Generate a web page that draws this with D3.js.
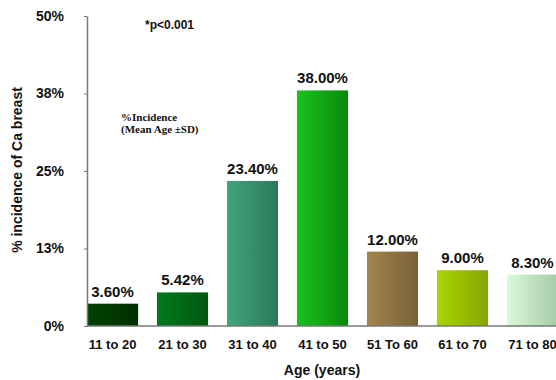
<!DOCTYPE html>
<html>
<head>
<meta charset="utf-8">
<script src="https://cdn.jsdelivr.net/npm/d3@7"></script>
<style>
  body { margin: 0; background: #fff; }
  svg { display: block; font-family: "Liberation Sans", Arial, sans-serif; }
</style>
</head>
<body>
<div id="chart"></div>
<script>
// data
var ageGroups = ["11 to 20", "21 to 30", "31 to 40", "41 to 50", "51 To 60", "61 to 70", "71 to 80"];
var incidence = [3.60, 5.42, 23.40, 38.00, 12.00, 9.00, 8.30];
var tickValues = [0, 12.5, 25, 37.5, 50];
var tickLabels = ["0%", "13%", "25%", "38%", "50%"];
// left / right colour of each bar's gradient
var colorsLeft  = ["#004200", "#007a1c", "#3fa67d", "#1ac21e", "#a2864e", "#aad500", "#dafada"];
var colorsRight = ["#002e00", "#005810", "#2c7858", "#078a0b", "#7a6036", "#86a600", "#a6c9a6"];

var W = 556, H = 380;
var svg = d3.select("#chart").append("svg")
    .attr("width", W)
    .attr("height", H);

var x = d3.scaleBand()
    .domain(ageGroups)
    .range([87, 558])
    .paddingInner(0.27)
    .paddingOuter(0);

var y = d3.scaleLinear()
    .domain([0, 50])
    .range([326, 16]);

// gradients
var defs = svg.append("defs");
ageGroups.forEach(function(d, i) {
  var g = defs.append("linearGradient")
      .attr("id", "grad" + i)
      .attr("x1", "0%").attr("x2", "100%")
      .attr("y1", "0%").attr("y2", "0%");
  g.append("stop").attr("offset", "0%").attr("stop-color", colorsLeft[i]);
  g.append("stop").attr("offset", "100%").attr("stop-color", colorsRight[i]);
});

// bars
svg.append("g")
  .selectAll("rect")
  .data(incidence)
  .enter()
  .append("rect")
    .attr("x", function(d, i) { return x(ageGroups[i]); })
    .attr("y", function(d) { return y(d); })
    .attr("width", x.bandwidth())
    .attr("height", function(d) { return y(0) - y(d); })
    .attr("fill", function(d, i) { return "url(#grad" + i + ")"; });

// value labels
svg.append("g")
  .selectAll("text")
  .data(incidence)
  .enter()
  .append("text")
    .attr("x", function(d, i) { return x(ageGroups[i]) + x.bandwidth() / 2; })
    .attr("y", function(d) { return y(d) - 7; })
    .attr("text-anchor", "middle")
    .style("font-size", "15px")
    .style("font-weight", "bold")
    .style("fill", "#111")
    .text(function(d) { return d.toFixed(2) + "%"; });

// Y axis
var yAxis = svg.append("g")
    .attr("transform", "translate(87,0)")
    .call(d3.axisLeft(y).tickValues(tickValues)
      .tickFormat(function(d, i) { return tickLabels[i]; })
      .tickSize(3).tickPadding(20).tickSizeOuter(0));
yAxis.select(".domain").attr("stroke", "#777").attr("stroke-width", 1.5);
yAxis.selectAll(".tick line").attr("stroke", "#777");
yAxis.selectAll("text")
    .style("font-size", "14px")
    .style("font-weight", "bold")
    .style("fill", "#111")
    .style("font-family", "Liberation Sans, Arial, sans-serif");

// X axis
var xAxis = svg.append("g")
    .attr("transform", "translate(0,326)")
    .call(d3.axisBottom(x).tickSize(0).tickPadding(14).tickSizeOuter(0));
xAxis.select(".domain").attr("d", "M87,0H556").attr("stroke", "#777").attr("stroke-width", 1.5);
xAxis.selectAll("text")
    .style("font-size", "13px")
    .style("font-weight", "bold")
    .style("fill", "#111")
    .style("font-family", "Liberation Sans, Arial, sans-serif");

// axis titles
svg.append("text")
    .attr("x", 322)
    .attr("y", 375)
    .attr("text-anchor", "middle")
    .style("font-size", "14px")
    .style("font-weight", "bold")
    .style("fill", "#111")
    .text("Age (years)");

svg.append("text")
    .attr("transform", "translate(22,170) rotate(-90)")
    .attr("text-anchor", "middle")
    .style("font-size", "14px")
    .style("font-weight", "bold")
    .style("fill", "#111")
    .text("% incidence of Ca breast");

// annotations
svg.append("text")
    .attr("x", 145)
    .attr("y", 29)
    .style("font-size", "12px")
    .style("font-weight", "bold")
    .style("fill", "#111")
    .text("*p<0.001");

var note = svg.append("text")
    .attr("x", 121)
    .attr("y", 121)
    .style("font-family", "Liberation Serif, Times New Roman, serif")
    .style("font-size", "11px")
    .style("font-weight", "bold")
    .style("fill", "#111");
note.append("tspan").attr("x", 121).text("%Incidence");
note.append("tspan").attr("x", 121).attr("dy", 12).text("(Mean Age \u00b1SD)");
</script>
</body>
</html>
